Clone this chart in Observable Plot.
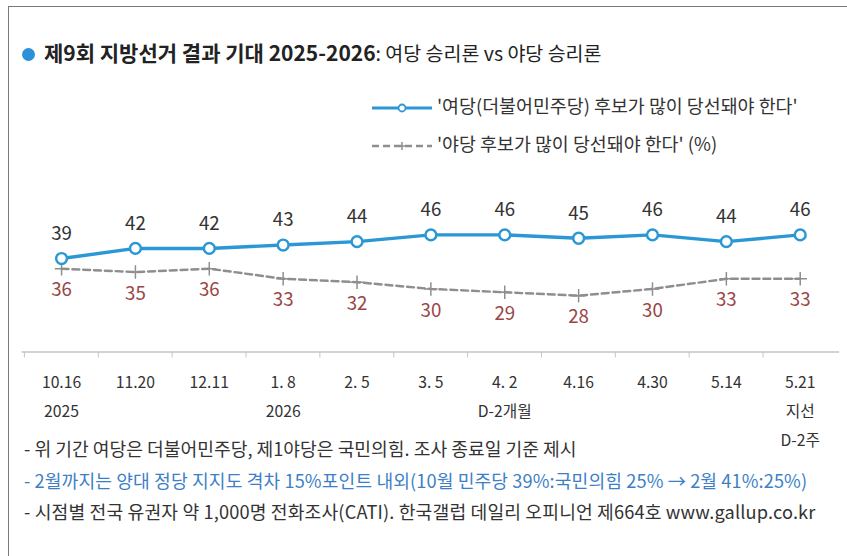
<!DOCTYPE html>
<html><head><meta charset="utf-8">
<script src="https://cdn.jsdelivr.net/npm/d3@7"></script>
<script src="https://cdn.jsdelivr.net/npm/@observablehq/plot@0.6"></script>
<style>
html,body{margin:0;padding:0;background:#fff;}
body{width:847px;height:556px;overflow:hidden;position:relative;font-family:"Noto Sans CJK KR","Noto Sans",sans-serif;color:#333;}
#frame{position:absolute;left:8px;top:6px;width:900px;height:600px;border-left:1.5px solid #7a7a7a;border-top:1.5px solid #7a7a7a;}
#title{position:absolute;left:22px;top:37px;line-height:30px;font-size:21px;white-space:nowrap;color:#222;}
#title .dot{display:inline-block;width:13px;height:13px;border-radius:50%;background:#2f8fd8;vertical-align:0px;margin-right:9px;}
#title b{font-weight:700;}
#title span.sub{font-size:19.5px;}
.leg{position:absolute;left:372px;height:26px;line-height:26px;font-size:18.4px;white-space:nowrap;color:#333;}
.leg svg{vertical-align:middle;margin-right:5px;}
#chart{position:absolute;left:0;top:0;}
#chart svg{display:block;}
.note{position:absolute;left:24px;font-size:18.2px;line-height:31px;white-space:nowrap;color:#333;}
</style>
</head><body>
<div id="frame"></div>
<div id="title"><span class="dot"></span><b>제9회 지방선거 결과 기대 2025-2026</b><span class="sub">: 여당 승리론 vs 야당 승리론</span></div>
<div class="leg" id="leg1" style="top:92px"></div>
<div class="leg" id="leg2" style="top:130px"></div>
<div id="chart"></div>
<div class="note" style="top:433px">- 위 기간 여당은 더불어민주당, 제1야당은 국민의힘. 조사 종료일 기준 제시</div>
<div class="note" style="top:465px;color:#3d7fc6;letter-spacing:0.1px">- 2월까지는 양대 정당 지지도 격차 15%포인트 내외(10월 민주당 39%:국민의힘 25% → 2월 41%:25%)</div>
<div class="note" style="top:496px;letter-spacing:0.15px">- 시점별 전국 유권자 약 1,000명 전화조사(CATI). 한국갤럽 데일리 오피니언 제664호 www.gallup.co.kr</div>
<script>
// ---- data ----
const dates = ["10.16", "11.20", "12.11", "1.8", "2.5", "3.5", "4.2", "4.16", "4.30", "5.14", "5.21"];
const tickLabels = ["10.16\n2025", "11.20", "12.11", "1. 8\n2026", "2. 5", "3. 5", "4. 2\nD-2개월", "4.16", "4.30", "5.14", "5.21\n지선\nD-2주"];
const rulingParty = [39, 42, 42, 43, 44, 46, 46, 45, 46, 44, 46];
const opposition = [36, 35, 36, 33, 32, 30, 29, 28, 30, 33, 33];
const seriesNames = ["'여당(더불어민주당) 후보가 많이 당선돼야 한다'", "'야당 후보가 많이 당선돼야 한다' (%)"];

const blue = "#2b97d5", gray = "#8e8e8e", red = "#9a4646";
const rows = dates.map((d, i) => ({date: d, ruling: rulingParty[i], opp: opposition[i]}));
const labelOf = Object.fromEntries(dates.map((d, i) => [d, tickLabels[i]]));

// legend
document.getElementById("leg1").innerHTML =
  `<svg width="60" height="14"><line x1="0" y1="7" x2="60" y2="7" stroke="${blue}" stroke-width="3"/><circle cx="30" cy="7" r="3.5" fill="#fff" stroke="${blue}" stroke-width="1.8"/></svg>` +
  `<span>${seriesNames[0]}</span>`;
document.getElementById("leg2").innerHTML =
  `<svg width="60" height="14"><line x1="0" y1="7" x2="60" y2="7" stroke="${gray}" stroke-width="2.5" stroke-dasharray="7,4"/><path d="M26,7H34M30,3V11" stroke="${gray}" stroke-width="1.5"/></svg>` +
  `<span>${seriesNames[1]}</span>`;

const W = 860, H = 556, mL = 22, mR = 8;
const step = (W - mL - mR) / dates.length;
const yDomain = [11.3, 46];

const chart = Plot.plot({
  width: W, height: H,
  marginLeft: mL, marginRight: mR, marginTop: 0, marginBottom: H - 357,
  style: {fontFamily: '"Noto Sans CJK KR", "Noto Sans", sans-serif', background: "transparent", overflow: "visible"},
  x: {type: "point", domain: dates, padding: 0.5, label: null},
  y: {domain: yDomain, range: [357, 238], axis: null, label: null},
  marks: [
    Plot.ruleY([yDomain[0]], {stroke: "#c4c4c4", strokeWidth: 1.5}),
    Plot.axisX({tickSize: 6, dx: -step / 2, tickFormat: () => "", stroke: "#c4c4c4", label: null}),
    Plot.axisX({tickSize: 0, tickPadding: 15, fontSize: 16, lineHeight: 1.85, fill: "#333", tickFormat: d => labelOf[d], label: null}),
    Plot.line(rows, {x: "date", y: "opp", stroke: gray, strokeWidth: 2.5, strokeDasharray: "7,4"}),
    Plot.dot(rows, {x: "date", y: "opp", symbol: "plus", r: 4.5, stroke: gray, strokeWidth: 1.5}),
    Plot.line(rows, {x: "date", y: "ruling", stroke: blue, strokeWidth: 3.5}),
    Plot.dot(rows, {x: "date", y: "ruling", r: 5.5, fill: "#fff", stroke: blue, strokeWidth: 2.5}),
    Plot.text(rows, {x: "date", y: "ruling", text: "ruling", dy: -25, fontSize: 19, fill: "#333"}),
    Plot.text(rows, {x: "date", y: "opp", text: "opp", dy: 22, fontSize: 19, fill: red})
  ]
});
document.getElementById("chart").appendChild(chart);
</script>
</body></html>
